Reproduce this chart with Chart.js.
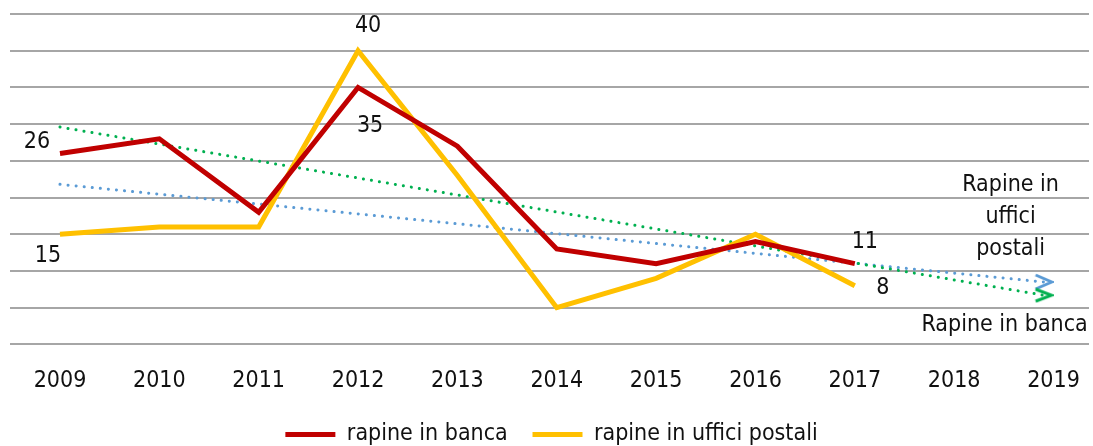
<!DOCTYPE html>
<html>
<head>
<meta charset="utf-8">
<script src="https://cdn.jsdelivr.net/npm/chart.js@4.4.1/dist/chart.umd.min.js"></script>
<style>
  html, body { margin: 0; padding: 0; background: #fff; overflow: hidden; }
  #wrap { width: 1093px; height: 446px; position: relative; }
  canvas { display: block; }
</style>
</head>
<body>
<div id="wrap"><canvas id="chart"></canvas></div>
<script>
// data
let years = [2009, 2010, 2011, 2012, 2013, 2014, 2015, 2016, 2017];
let axisYears = [2009, 2010, 2011, 2012, 2013, 2014, 2015, 2016, 2017, 2018, 2019];
let banca = [26, 28, 18, 35, 27, 13, 11, 14, 11];
let postali = [15, 16, 16, 40, 23, 5, 9, 15, 8];
// trend lines (start 2009, end near 2019)
let trendX = [2009, 2018.9];
let trendBanca = [29.6, 6.7];
let trendPostali = [21.8, 8.5];

let FONT = "'Liberation Sans Narrow', 'DejaVu Sans Condensed', 'Roboto', sans-serif";
let FSIZE = 23;

// which points get a value label, and where it sits relative to the point
let bancaLabels = { 0: [-23, -11], 3: [12, 39], 8: [10, -22] };
let postaliLabels = { 0: [-12, 22], 3: [10, -25], 8: [28, 2] };

function chevron(color, w, h) {
    let c = document.createElement('canvas');
    c.width = w; c.height = h;
    let g = c.getContext('2d');
    g.strokeStyle = color;
    g.lineWidth = 3;
    g.lineJoin = 'miter';
    g.beginPath();
    g.moveTo(2, 2);
    g.lineTo(w - 2, h / 2);
    g.lineTo(2, h - 2);
    g.stroke();
    return c;
}

let blueArrow = chevron('#5B9BD5', 20, 18);
let greenArrow = chevron('#00B050', 20, 16);

function pts(xs, ys) {
    return xs.map((x, i) => ({ x: x, y: ys[i] }));
}

let labelPlugin = {
    id: 'labels',
    afterDatasetsDraw(chart) {
        let ctx = chart.ctx;
        ctx.save();
        ctx.font = FSIZE + 'px ' + FONT;
        ctx.fillStyle = '#111';
        ctx.textAlign = 'center';
        ctx.textBaseline = 'middle';
        [[0, bancaLabels, banca], [1, postaliLabels, postali]].forEach(([di, offs, vals]) => {
            let meta = chart.getDatasetMeta(di);
            Object.keys(offs).forEach(k => {
                let p = meta.data[k];
                ctx.fillText(String(vals[k]), p.x + offs[k][0], p.y + offs[k][1]);
            });
        });
        // trend line captions
        let bEnd = chart.getDatasetMeta(3).data[1];
        ['Rapine in', 'uffici', 'postali'].forEach((t, i) => {
            ctx.fillText(t, bEnd.x - 33, bEnd.y - 97 + i * 32);
        });
        let gEnd = chart.getDatasetMeta(2).data[1];
        ctx.fillText('Rapine in banca', gEnd.x - 39, gEnd.y + 30);
        ctx.restore();
    }
};

let ctx = document.getElementById('chart').getContext('2d');
let chart = new Chart(ctx, {
    type: 'line',
    data: {
        datasets: [
            {
                label: 'rapine in banca',
                data: pts(years, banca),
                borderColor: '#C00000',
                backgroundColor: '#C00000',
                borderWidth: 5,
                borderJoinStyle: 'miter',
                pointRadius: 0,
                tension: 0
            },
            {
                label: 'rapine in uffici postali',
                data: pts(years, postali),
                borderColor: '#FFC000',
                backgroundColor: '#FFC000',
                borderWidth: 5,
                borderJoinStyle: 'miter',
                pointRadius: 0,
                tension: 0
            },
            {
                label: 'trend banca',
                data: pts(trendX, trendBanca),
                borderColor: '#00B050',
                borderWidth: 3,
                borderDash: [0.1, 8],
                borderCapStyle: 'round',
                pointRadius: [0, 0.5],
                pointBorderWidth: 0,
                pointStyle: [false, greenArrow],
                tension: 0
            },
            {
                label: 'trend postali',
                data: pts(trendX, trendPostali),
                borderColor: '#5B9BD5',
                borderWidth: 3,
                borderDash: [0.1, 8],
                borderCapStyle: 'round',
                pointRadius: [0, 0.5],
                pointBorderWidth: 0,
                pointStyle: [false, blueArrow],
                tension: 0
            }
        ]
    },
    options: {
        responsive: true,
        maintainAspectRatio: false,
        animation: false,
        layout: { padding: { left: 10, right: 0, top: 14, bottom: -10 } },
        scales: {
            x: {
                type: 'linear',
                min: 2008.497,
                max: 2019.357,
                afterBuildTicks: scale => {
                    scale.ticks = axisYears.map(v => ({ value: v }));
                },
                afterFit: scale => {
                    scale.paddingLeft = 0;
                    scale.paddingRight = 0;
                },
                grid: { display: false, drawTicks: false },
                border: { display: false },
                ticks: {
                    padding: 23,
                    color: '#111',
                    font: { family: FONT, size: FSIZE },
                    callback: v => String(v),
                    maxRotation: 0,
                    autoSkip: false
                }
            },
            y: {
                min: 0,
                max: 45,
                grid: { color: '#A6A6A6', lineWidth: 2, drawTicks: false },
                border: { display: false },
                ticks: { display: false, stepSize: 5 }
            }
        },
        plugins: {
            legend: {
                position: 'bottom',
                labels: {
                    filter: item => item.datasetIndex < 2,
                    generateLabels: chart => {
                        let items = Chart.defaults.plugins.legend.labels.generateLabels(chart);
                        items.forEach(it => {
                            it.lineWidth = 0;
                            if (it.datasetIndex === 0) it.text = it.text + '   ';
                        });
                        return items;
                    },
                    boxWidth: 50,
                    boxHeight: 5,
                    padding: 5,
                    color: '#111',
                    font: { family: FONT, size: FSIZE }
                }
            },
            tooltip: { enabled: false }
        }
    },
    plugins: [labelPlugin]
});
</script>
</body>
</html>
